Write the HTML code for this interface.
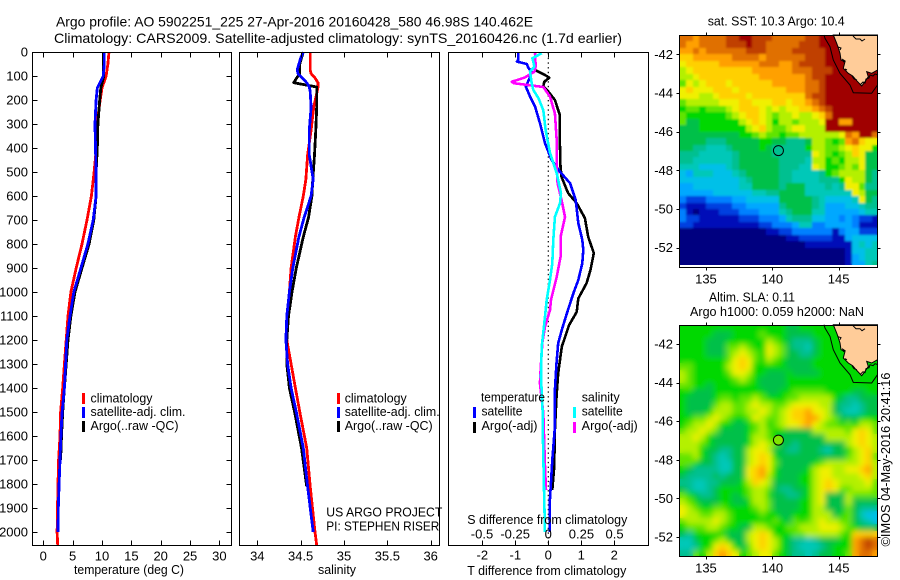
<!DOCTYPE html>
<html lang="en">
<head>
<meta charset="utf-8">
<title>Argo profile 5902251_225</title>
<style>
html,body{margin:0;padding:0;background:#fff;}
body{width:900px;height:580px;overflow:hidden;}
svg{display:block;font-family:"Liberation Sans",sans-serif;fill:#000;}
text{font-size:13px;}
.t14{font-size:14px;}
.t12{font-size:12.5px;}
</style>
</head>
<body>
<svg id="chart" xmlns="http://www.w3.org/2000/svg" width="900" height="580" viewBox="0 0 900 580">
  <defs>
    <filter id="sst-soften" x="-5%" y="-5%" width="110%" height="110%"><feGaussianBlur stdDeviation="1.1"/></filter>
    <filter id="sla-soften" x="-5%" y="-5%" width="110%" height="110%"><feGaussianBlur stdDeviation="3"/></filter>
    <clipPath id="sst-clip"><rect x="680" y="36" width="197" height="229"/></clipPath>
    <clipPath id="sla-clip"><rect x="680" y="326" width="197" height="230"/></clipPath>
  </defs>
  <rect x="0" y="0" width="900" height="580" fill="#fff"/>
  <text class="t14" x="56" y="26.5" textLength="477" lengthAdjust="spacingAndGlyphs">Argo profile: AO 5902251_225 27-Apr-2016 20160428_580 46.98S 140.462E</text>
  <text class="t14" x="54" y="43" textLength="568" lengthAdjust="spacingAndGlyphs">Climatology: CARS2009. Satellite-adjusted climatology: synTS_20160426.nc (1.7d earlier)</text>

  <g id="temp-panel"></g>
  <g id="sal-panel"></g>
  <g id="diff-panel"></g>

  <text x="74" y="574" textLength="110" lengthAdjust="spacingAndGlyphs">temperature (deg C)</text>
  <text x="318" y="574" textLength="38" lengthAdjust="spacingAndGlyphs">salinity</text>
  <text x="467.3" y="575" textLength="159" lengthAdjust="spacingAndGlyphs">T difference from climatology</text>
  <text x="467.3" y="524" textLength="160" lengthAdjust="spacingAndGlyphs">S difference from climatology</text>

  <g>
    <rect x="82" y="393" width="3" height="11" fill="#f00"/>
    <text class="t12" x="90.5" y="402.5" textLength="62" lengthAdjust="spacingAndGlyphs">climatology</text>
    <rect x="82" y="407" width="3" height="11" fill="#00f"/>
    <text class="t12" x="90.5" y="416" textLength="95" lengthAdjust="spacingAndGlyphs">satellite-adj. clim.</text>
    <rect x="82" y="421" width="3" height="11" fill="#000"/>
    <text class="t12" x="90.5" y="430" textLength="88" lengthAdjust="spacingAndGlyphs">Argo(..raw -QC)</text>
  </g>
  <g>
    <rect x="337" y="393" width="3" height="11" fill="#f00"/>
    <text class="t12" x="344.7" y="402.5" textLength="62" lengthAdjust="spacingAndGlyphs">climatology</text>
    <rect x="337" y="407" width="3" height="11" fill="#00f"/>
    <text class="t12" x="344.7" y="416" textLength="95" lengthAdjust="spacingAndGlyphs">satellite-adj. clim.</text>
    <rect x="337" y="421" width="3" height="11" fill="#000"/>
    <text class="t12" x="344.7" y="430" textLength="88" lengthAdjust="spacingAndGlyphs">Argo(..raw -QC)</text>
  </g>
  <text class="t12" x="326.3" y="516.7" textLength="116" lengthAdjust="spacingAndGlyphs">US ARGO PROJECT</text>
  <text class="t12" x="326.3" y="530.7" textLength="113" lengthAdjust="spacingAndGlyphs">PI: STEPHEN RISER</text>

  <g>
    <text class="t12" x="481" y="401.7" textLength="64" lengthAdjust="spacingAndGlyphs">temperature</text>
    <text class="t12" x="581.7" y="401.7" textLength="38" lengthAdjust="spacingAndGlyphs">salinity</text>
    <rect x="473" y="407" width="3" height="11" fill="#00f"/>
    <text class="t12" x="481.5" y="415.7" textLength="41" lengthAdjust="spacingAndGlyphs">satellite</text>
    <rect x="473" y="422" width="3" height="11" fill="#000"/>
    <text class="t12" x="481.5" y="430" textLength="56" lengthAdjust="spacingAndGlyphs">Argo(-adj)</text>
    <rect x="573" y="407" width="3" height="11" fill="#0ff"/>
    <text class="t12" x="581.7" y="415.7" textLength="41" lengthAdjust="spacingAndGlyphs">satellite</text>
    <rect x="573" y="422" width="3" height="11" fill="#f0f"/>
    <text class="t12" x="581.7" y="430" textLength="56" lengthAdjust="spacingAndGlyphs">Argo(-adj)</text>
  </g>

  <text class="t12" x="707.7" y="25.7" textLength="137" lengthAdjust="spacingAndGlyphs">sat. SST: 10.3 Argo: 10.4</text>
  <text class="t12" x="709" y="301.7" textLength="86" lengthAdjust="spacingAndGlyphs">Altim. SLA: 0.11</text>
  <text class="t12" x="690" y="316" textLength="174" lengthAdjust="spacingAndGlyphs">Argo h1000: 0.059 h2000: NaN</text>

  <g id="sst-map"></g>
  <g id="sla-map"></g>

  <text x="0" y="0" transform="translate(890,546.5) rotate(-90)" textLength="174" lengthAdjust="spacingAndGlyphs">©IMOS 04-May-2016 20:41:16</text>
</svg>

<script>
// ---------- profile data ----------
const depthTicks = [0,100,200,300,400,500,600,700,800,900,1000,1100,1200,1300,1400,1500,1600,1700,1800,1900,2000];
const tempTicks = [0,5,10,15,20,25,30];
const salTicks = [34,34.5,35,35.5,36];
const salTickLabels = ['34','34.5','35','35.5','36'];
const tDiffTicks = [-2,-1,0,1,2];
const sDiffTicks = [-0.5,-0.25,0,0.25,0.5];
const sDiffTickLabels = ['-0.5','-0.25','0','0.25','0.5'];

const tempDepths = [0,50,100,150,200,300,400,500,600,700,800,900,1000,1100,1200,1300,1400,1500,1600,1700,1800,1900,2000,2055];
const tempClim = [11.2,11.0,10.7,10.0,9.7,9.15,9.05,8.65,8.2,7.45,6.6,5.6,4.7,4.2,3.9,3.6,3.3,2.95,2.85,2.6,2.5,2.42,2.35,2.45];
const tempArgo = [10.2,10.2,10.3,9.8,9.6,9.3,9.2,9.0,9.0,8.6,7.8,6.6,5.4,4.7,4.2,3.9,3.6,3.3,3.1,2.95,null,null,null,null];
const tempSat = [10.4,10.4,10.2,9.2,9.0,8.8,8.9,9.0,9.0,8.5,7.6,6.4,5.2,4.55,4.0,3.8,3.6,3.2,3.0,2.85,2.7,2.55,2.5,null];

const salDepths = [0,25,50,75,90,105,128,146,165,230,325,430,530,600,690,770,900,1000,1100,1200,1300,1400,1500,1650,1810,2000,2055];
const salClim = [34.61,34.61,34.61,34.61,34.62,34.66,34.70,34.70,34.69,34.65,34.62,34.58,34.56,34.53,34.48,34.44,34.39,34.37,34.35,34.34,34.39,34.44,34.49,34.57,34.61,34.665,34.685];
const salArgo = [34.53,34.51,34.49,34.49,34.49,34.46,34.42,34.685,34.685,34.685,34.675,34.66,34.64,34.63,34.59,34.53,34.45,34.40,34.36,34.34,34.34,34.37,34.43,34.51,34.57,null,null];
const salSat = [34.53,34.50,34.48,34.46,34.47,34.51,34.57,34.60,34.61,34.62,34.60,34.60,34.645,34.62,34.54,34.48,34.41,34.37,34.34,34.33,34.35,34.39,34.45,34.53,34.58,34.645,null];

const tSatDepths = [5,33,40,50,67,82,103,145,186,228,297,380,450,498,547,617,713,783,825,880,950,1005,1090,1158,1213,1297,1408,1562,1700,1867,2000];
const tSatDiff = [-0.91,-0.91,-0.95,-0.65,-0.6,-0.5,-0.55,-0.68,-0.55,-0.4,-0.25,-0.1,0.1,0.35,0.66,0.83,0.91,1.03,1.06,1.03,0.91,0.76,0.56,0.41,0.3,0.25,0.2,0.2,0.12,0.05,0.05];
const tArgoDepths = [75,96,107,124,142,165,200,262,367,478,520,588,630,692,770,838,908,963,1027,1083,1138,1228,1338,1437,1575,1729,1825];
const tArgoDiff = [-0.4,-0.1,0.03,-0.12,-0.15,0,0.2,0.35,0.35,0.37,0.4,0.6,0.86,1.11,1.21,1.38,1.28,1.16,0.91,0.86,0.63,0.41,0.3,0.25,0.2,0.18,0.12];
const sSatDepths = [5,26,61,82,130,158,192,242,325,420,505,588,630,687,783,880,950,1033,1130,1228,1353,1505,1562,1838,2000];
const sSatDiff = [-0.05,-0.12,-0.105,-0.138,-0.125,-0.113,-0.075,-0.038,-0.02,0.013,0.063,0.096,0.088,0.05,0.038,0.03,0.013,-0.012,-0.03,-0.05,-0.055,-0.042,-0.042,-0.032,-0.025];
const sArgoDepths = [5,61,82,106,124,130,146,186,256,367,478,547,617,687,770,853,937,1033,1075,1145,1213,1297,1380,1505,1729,1825];
const sArgoDiff = [-0.1,-0.095,-0.105,-0.176,-0.276,-0.26,-0.038,0.013,0.05,0.063,0.063,0.07,0.1,0.126,0.093,0.093,0.063,0.02,0.013,-0.025,-0.045,-0.055,-0.063,-0.038,-0.025,-0.017];

// ---------- map data ----------
const lonTicks = [135,140,145];
const latTicks = [-42,-44,-46,-48,-50,-52];
const argoLon = 140.462;
const argoLat = -46.98;

const sstGrid = [
"ffeff ffggh hgggf ffffg ghhhh hhhhh",
"feeff ffggg hggff fffgg ghhhh hhhhh",
"eefef fffff gggff ffggg gghhh hhhhh",
"ddeee eeeff ffeff ffffg gghhh hhhhh",
"cdddd deeee eefff eefgg gghhh hhhhh",
"bcddd ddddd deeee eefff ggghh hhhhh",
"bbcdd ddddd ddeee eeeef gghhh hhhhh",
"acbcd ddcdd dddde eeeef fghhh hhhhh",
"cdccc dddcd ddddd deeef fghhh hhhhh",
"cccbb cdddd cdddd ddddf gghhh hhhhh",
"abbbb bcccd dcccd dcdde fghhh hhhhh",
"9aa9a aabcd ddcbc bccdd efghh hhhhh",
"a9999 99abc ddcba bbcbb cdfhh hhhhh",
"a8899 9999b cdcb9 bbabb bchhe ehhhh",
"88899 99999 bcdba abccb bbhhh hhhhh",
"88888 88889 9abaa 9aabb bbbbc fehhf",
"88887 77888 88998 87778 bba9a efdcc",
"88776 66788 88987 77779 bbaab cdcc9",
"77766 66678 88887 77777 cba9a bdc88",
"77666 66678 88888 77776 bb9a9 bbc88",
"66655 55678 88888 77766 cb99a bac88",
"54666 55567 88888 77666 679ab bbb87",
"55555 55556 78888 77666 67779 cbb87",
"44555 55556 68888 78886 66767 cca77",
"44444 55555 56677 88886 66666 6cb88",
"32223 33344 55555 88888 76555 56c87",
"21112 22233 44444 78888 76444 55677",
"31011 12223 33444 67888 66444 44566",
"32211 11112 22333 46777 55443 43221",
"22111 11111 11223 33466 33444 43111",
"00000 00000 00011 22333 33313 44222",
"00000 00000 00000 01122 22211 45555",
"00000 00000 00000 00001 11111 15656",
"00000 00000 00000 00000 00000 15566",
"00000 00000 00000 00000 00000 14566",
"00000 00000 00000 00000 00000 14467"
];

const slaGrid = [
"99999 99999 99999 98899 99999 99999",
"99999 88899 99a99 98888 99999 99999",
"99998 88999 999ba 98777 89999 99999",
"99998 88aab a99cb a8776 89999 99999",
"99998 88abc ba9cb a8877 89999 99999",
"99999 99acd ca9ba 98888 99999 99999",
"aa999 99bcd c9999 98888 99999 99999",
"ba999 99acc b9988 89888 89999 99999",
"ba999 999ab a9888 89999 99999 99999",
"aa998 99999 99888 89999 99999 99999",
"99888 99999 99988 99aaa aa999 98899",
"98888 9aa9a aba99 9aabb bbb98 77888",
"98888 abbaa bcbba abccc cbb87 76788",
"98889 bbbaa bbcba bcdde ccb87 66788",
"99aab cba99 acbaa bcdde ecba8 88999",
"9abbc b9988 9ab9a bccde cbaa9 a9bba",
"abbcb a8888 9aba9 98888 bbbbb acdca",
"bbcb9 88888 9bba9 88888 88bbb bcdcb",
"bbba9 88888 9bcba 88788 88888 bcdcb",
"bbb98 87788 bccb8 87788 87688 9bcdb",
"aab98 76788 bcdc9 88888 88888 abcda",
"aa988 76688 bcdca 88888 9abbb bbcdb",
"98777 76688 cdec9 88889 bccbb ccdeb",
"87777 87888 cdeb9 88899 bccbb bbcdb",
"77667 78889 bdcb8 88899 bcdcb bbbca",
"87667 89999 abba8 77889 bcdca abbba",
"a9877 89989 abb98 87789 bc888 baaaa",
"ba988 89988 9bba8 88899 bc888 b8888",
"cba99 aa999 9aba8 88899 bb888 a8777",
"cbbaa bba99 99a99 88999 bbb89 a8655",
"abbbb cba99 9999a 98a9a bcbba a8765",
"9aaab ba998 8bba9 9aabb bcccb a9888",
"87999 99888 bcdc9 99aab bbbba 9dddd",
"66899 ab988 bcdcb 98776 78889 9efgf",
"66799 cdc98 acdcb 98766 67899 9efgf",
"77a9b dedc9 abcca 98776 78899 aeffe"
];

const levelKeys = "0123456789abcdefgh";
const levelColours = ["#000080","#0008b8","#0040e0","#0080ff","#00a8ff","#00c0e8","#00c8b8","#00c090","#00c048","#00d800","#60e400","#b4f000","#f0f000","#ffd000","#ffa000","#e07000","#c04000","#a00000"];

// ---------- axis functions ----------
const NS = "http://www.w3.org/2000/svg";
const depthY = d => 52 + d * 0.24;
const tempX = v => 43.3 + v * 5.87;
const salX = v => 257.3 + (v - 34) * 86.7;
const tDiffX = v => 548.3 + v * 33;
const sDiffX = v => 548.3 + v * 132.6;
const lonX = v => 772.3 + (v - 140) * 13.27;
const sstLatY = v => 54.3 + (-42 - v) * 19.34;
const slaLatY = v => 344 + (-42 - v) * 19.3;

function add(parent, tag, attrs, text) {
  const el = document.createElementNS(NS, tag);
  for (const k in attrs) el.setAttribute(k, attrs[k]);
  if (text !== undefined) el.textContent = text;
  parent.appendChild(el);
  return el;
}

function drawSeries(parent, name, colour, width, depths, values, xFn) {
  let pts = [];
  values.forEach((v, i) => {
    if (v !== null) pts.push(xFn(v).toFixed(1) + "," + depthY(depths[i]).toFixed(1));
  });
  const el = add(parent, "polyline", {
    points: pts.join(" "), fill: "none", stroke: colour,
    "stroke-width": width, "stroke-linejoin": "round", "shape-rendering": "crispEdges"
  });
  
  
}

function drawTick(parent, name, x1, y1, x2, y2) {
  const el = add(parent, "line", {x1: x1, y1: y1, x2: x2, y2: y2, stroke: "#000", "stroke-width": 1, "shape-rendering": "crispEdges"});
  
  
}

function drawLabel(parent, name, x, y, anchor, str) {
  const el = add(parent, "text", {x: x, y: y, "text-anchor": anchor}, str);
  
  
}

function drawBox(parent, name, x, y, w, h) {
  const el = add(parent, "rect", {x: x, y: y, width: w, height: h, fill: "none", stroke: "#000", "stroke-width": 1, "shape-rendering": "crispEdges"});
  
  
}

// ---------- temperature panel ----------
const tp = document.getElementById("temp-panel");
drawSeries(tp, "temperature-climatology-line", "#f00", 2.8, tempDepths, tempClim, tempX);
drawSeries(tp, "temperature-argo-line", "#000", 2.8, tempDepths, tempArgo, tempX);
drawSeries(tp, "temperature-satellite-line", "#00f", 2.8, tempDepths, tempSat, tempX);
drawBox(tp, "temperature-plot-frame", 32.5, 52.5, 199, 493);
depthTicks.forEach(d => {
  const y = Math.round(depthY(d)) + 0.5;
  drawTick(tp, "depth-tick-left", 32.5, y, 37.5, y);
  drawTick(tp, "depth-tick-right", 226.5, y, 231.5, y);
  drawLabel(tp, "depth-tick-label", 28, depthY(d) + 4.5, "end", String(d));
});
tempTicks.forEach(v => {
  const x = Math.round(tempX(v)) + 0.5;
  drawTick(tp, "temperature-tick-top", x, 52.5, x, 57.5);
  drawTick(tp, "temperature-tick-bottom", x, 540.5, x, 545.5);
  drawLabel(tp, "temperature-tick-label", tempX(v), 560.5, "middle", String(v));
});

// ---------- salinity panel ----------
const sp = document.getElementById("sal-panel");
drawSeries(sp, "salinity-climatology-line", "#f00", 2.8, salDepths, salClim, salX);
drawSeries(sp, "salinity-argo-line", "#000", 2.8, salDepths, salArgo, salX);
drawSeries(sp, "salinity-satellite-line", "#00f", 2.8, salDepths, salSat, salX);
drawBox(sp, "salinity-plot-frame", 239.5, 52.5, 200, 493);
salTicks.forEach((v, i) => {
  const x = Math.round(salX(v)) + 0.5;
  drawTick(sp, "salinity-tick-top", x, 52.5, x, 57.5);
  drawTick(sp, "salinity-tick-bottom", x, 540.5, x, 545.5);
  drawLabel(sp, "salinity-tick-label", salX(v), 560.5, "middle", salTickLabels[i]);
});

// ---------- difference panel ----------
const dp = document.getElementById("diff-panel");
const zero = add(dp, "line", {x1: tDiffX(0), y1: 53, x2: tDiffX(0), y2: 545, stroke: "#000", "stroke-width": 1.2, "stroke-dasharray": "1.4 3.3"});


drawSeries(dp, "t-diff-argo-line", "#000", 2.6, tArgoDepths, tArgoDiff, tDiffX);
drawSeries(dp, "t-diff-satellite-line", "#00f", 2.6, tSatDepths, tSatDiff, tDiffX);
drawSeries(dp, "s-diff-argo-line", "#f0f", 2.6, sArgoDepths, sArgoDiff, sDiffX);
drawSeries(dp, "s-diff-satellite-line", "#0ff", 2.6, sSatDepths, sSatDiff, sDiffX);
drawBox(dp, "difference-plot-frame", 448.5, 52.5, 200, 493);
tDiffTicks.forEach(v => {
  const x = Math.round(tDiffX(v)) + 0.5;
  drawTick(dp, "t-diff-tick-top", x, 52.5, x, 57.5);
  drawTick(dp, "t-diff-tick-bottom", x, 540.5, x, 545.5);
  drawLabel(dp, "t-diff-tick-label", tDiffX(v), 559.5, "middle", String(v));
});
sDiffTicks.forEach((v, i) => {
  drawLabel(dp, "s-diff-tick-label", sDiffX(v), 538.7, "middle", sDiffTickLabels[i]);
});

// ---------- maps ----------
const landPath = "M833.3 35L836.7 43.3L838 47L840 53.3L841 60L845 61.7L843.3 68.3L848.3 73.3L852.7 76L856.7 80.7L861.7 86L865 81.7L868.3 76.7L866.7 71.7L871.7 73.3L877.5 70L877.5 35Z";
const contourPath = "M824 35L825 38.3L830 46.7L833.3 60L840 73.3L850 85L853.3 92.7L871.7 93.3L877.5 85";
const coastPath = "M838 47l3 1l-1 2M842 59l3 2l-2 1M860 85l3-3l2 1l1-4l3-1l1-3l3 1l2-2l3 1M852 76l2 3l3 1M853 36l3 3l4 0l2 2l3-2M847 70l-2-1";

function drawMap(groupId, prefix, grid, latY, top, bottom, dataBottom, landDy, markerFill) {
  const g = document.getElementById(groupId);
  const clipped = add(g, "g", {"clip-path": "url(#" + prefix.slice(0, 3) + "-clip)"});
  
  
  const base = add(clipped, "g", {id: prefix + "-cells"});
  
  
  const rows = grid.map(r => r.replace(/ /g, ""));
  const lonStep = 15 / 30;
  const latStep = 12 / 36;
  rows.forEach((row, r) => {
    for (let c = 0; c < row.length; c++) {
      const level = levelKeys.indexOf(row[c]);
      const lon = 133 + c * lonStep;
      const lat = -41 - r * latStep;
      const x0 = Math.round(lonX(lon)), x1 = Math.min(877, Math.round(lonX(lon + lonStep)));
      const y0 = Math.round(latY(lat)), y1 = Math.min(dataBottom, Math.round(latY(lat - latStep)));
      const cell = add(base, "rect", {x: x0, y: y0, width: x1 - x0, height: y1 - y0, fill: levelColours[level], "shape-rendering": "crispEdges"});
      
      
    }
  });
  const soft = add(clipped, "use", {href: "#" + prefix + "-cells", filter: "url(#" + prefix.slice(0, 3) + "-soften)"});
  
  
  const land = add(g, "path", {d: landPath, fill: "#ffcc99", transform: "translate(0," + landDy + ")"});
  
  
  const outline = add(g, "path", {d: landPath + " " + coastPath, fill: "none", stroke: "#000", "stroke-width": 1, transform: "translate(0," + landDy + ")"});
  
  
  const contour = add(g, "path", {d: contourPath, fill: "none", stroke: "#000", "stroke-width": 1, transform: "translate(0," + landDy + ")"});
  
  
  const marker = add(g, "circle", {cx: lonX(argoLon), cy: latY(argoLat), r: 5, fill: markerFill, stroke: "#000", "stroke-width": 1});
  
  
  drawBox(g, prefix + "-frame", 679.5, top, 198, bottom - top);
  lonTicks.forEach(v => {
    const x = Math.round(lonX(v)) + 0.5;
    drawTick(g, prefix + "-lon-tick-top", x, top - 3, x, top);
    drawTick(g, prefix + "-lon-tick-bottom", x, bottom, x, bottom + 3);
    drawLabel(g, prefix + "-lon-tick-label", lonX(v), bottom + 16, "middle", String(v));
  });
  latTicks.forEach(v => {
    const y = Math.round(latY(v)) + 0.5;
    drawTick(g, prefix + "-lat-tick-left", 676.5, y, 679.5, y);
    drawTick(g, prefix + "-lat-tick-right", 877.5, y, 880.5, y);
    drawLabel(g, prefix + "-lat-tick-label", 673, latY(v) + 4.5, "end", String(v));
  });
}

drawMap("sst-map", "sst-map", sstGrid, sstLatY, 35.5, 267.5, 265, 0, "#00c090");
drawMap("sla-map", "sla-map", slaGrid, slaLatY, 325.5, 556.5, 556, 289.7, "#80e400");
</script>
</body>
</html>
